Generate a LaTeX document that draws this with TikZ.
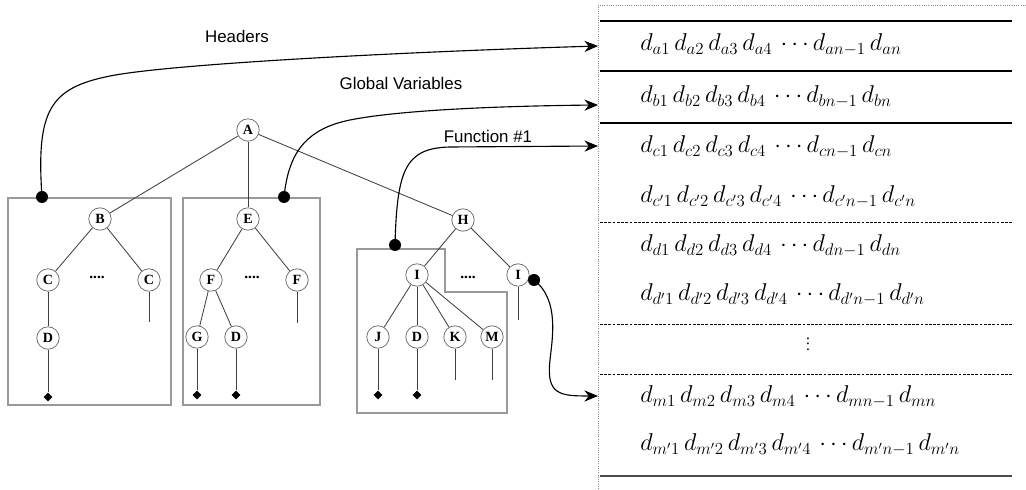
\documentclass[tikz,border=0pt]{standalone}
\usepackage{fontspec}
\setmainfont{Liberation Serif}
\newfontfamily\labelfont{Liberation Sans}
\usetikzlibrary{arrows.meta,shapes.geometric}
\newcommand{\gap}{\mkern3mu}

\begin{document}
\begin{tikzpicture}[x=0.025cm, y=-0.025cm,
        vert/.style={circle, draw=black!60, line width=0.5pt, inner sep=0pt, minimum size=0.56cm, font=\fontsize{10}{10}\selectfont\bfseries},
        leaf/.style={diamond, fill=black, inner sep=0pt, minimum size=0.22cm},
        hook/.style={circle, fill=black, inner sep=0pt, minimum size=0.3cm},
        edge/.style={black!75, line width=0.6pt},
        frame/.style={draw=black!40, line width=0.9pt},
        link/.style={line width=0.8pt, -{Stealth[length=0.34cm, width=0.28cm]}},
        lbl/.style={font=\labelfont\fontsize{12}{14}\selectfont},
        row/.style={anchor=west, inner sep=0pt, font=\fontsize{17}{19}\selectfont},
        more/.style={font=\fontsize{11}{11}\selectfont\bfseries}]
        \useasboundingbox (0,0) rectangle (1026,490);

        % Boxes around the subtrees
        \draw[frame] (8,198) rectangle (171,405);
        \draw[frame] (183,198) rectangle (320,405);
        \draw[frame] (357,249) -- (445,249) -- (445,292) -- (507,292) -- (507,413) -- (357,413) -- cycle;

        % Tree vertices
        \node at (248,130) (A) [vert] {A};
        \node at (100,219) (B) [vert] {B};
        \node at (248,219) (E) [vert] {E};
        \node at (463,220) (H) [vert] {H};

        \node at (48,280) (C1) [vert] {C};
        \node at (149,280) (C2) [vert] {C};
        \node at (48,338) (D1) [vert] {D};

        \node at (211,280) (F1) [vert] {F};
        \node at (297,280) (F2) [vert] {F};
        \node at (197,337) (G) [vert] {G};
        \node at (236,337) (D2) [vert] {D};

        \node at (417,275) (I1) [vert] {I};
        \node at (518,275) (I2) [vert] {I};
        \node at (378,337) (J) [vert] {J};
        \node at (417,337) (D3) [vert] {D};
        \node at (455,337) (K) [vert] {K};
        \node at (492,337) (M) [vert] {M};

        % Sibling gaps
        \node at (97,277) (g1) [more] {....};
        \node at (252,277) (g2) [more] {....};
        \node at (468,277) (g3) [more] {....};

        % Leaves and open ends
        \node at (48,397) (t1) [leaf] {};
        \node at (197,395) (t2) [leaf] {};
        \node at (236,395) (t3) [leaf] {};
        \node at (378,395) (t4) [leaf] {};
        \node at (417,395) (t5) [leaf] {};
        \coordinate (s1) at (149,322);
        \coordinate (s2) at (297,323);
        \coordinate (s3) at (518,320);
        \coordinate (s4) at (455,380);
        \coordinate (s5) at (492,380);

        % Tree edges
        \draw[edge] (A) -- (B);
        \draw[edge] (A) -- (E);
        \draw[edge] (A) -- (H);
        \draw[edge] (B) -- (C1);
        \draw[edge] (B) -- (C2);
        \draw[edge] (C1) -- (D1);
        \draw[edge] (D1) -- (t1);
        \draw[edge] (C2) -- (s1);
        \draw[edge] (E) -- (F1);
        \draw[edge] (E) -- (F2);
        \draw[edge] (F1) -- (G);
        \draw[edge] (F1) -- (D2);
        \draw[edge] (G) -- (t2);
        \draw[edge] (D2) -- (t3);
        \draw[edge] (F2) -- (s2);
        \draw[edge] (H) -- (I1);
        \draw[edge] (H) -- (I2);
        \draw[edge] (I2) -- (s3);
        \draw[edge] (I1) -- (J);
        \draw[edge] (I1) -- (D3);
        \draw[edge] (I1) -- (K);
        \draw[edge] (I1) -- (M);
        \draw[edge] (J) -- (t4);
        \draw[edge] (D3) -- (t5);
        \draw[edge] (K) -- (s4);
        \draw[edge] (M) -- (s5);

        % Memory layout
        \draw[black!45, densely dotted, line width=0.6pt] (1026,5) -- (598,5) -- (598,490);
        \draw[line width=0.8pt] (600,21) -- (1012,21);
        \draw[line width=0.8pt] (600,71) -- (1012,71);
        \draw[line width=0.8pt] (600,123) -- (1012,123);
        \draw[dash pattern=on 2pt off 1pt, line width=0.6pt] (600,222) -- (1012,222);
        \draw[dash pattern=on 2pt off 1pt, line width=0.6pt] (600,324) -- (1012,324);
        \draw[dash pattern=on 2pt off 1pt, line width=0.6pt] (600,374) -- (1012,374);
        \draw[line width=1pt, black!70] (600,476) -- (1012,476);

        \node at (640,45) (ra) [row] {$d_{a1}\gap d_{a2}\gap d_{a3}\gap d_{a4}\gap\cdots d_{an-1}\gap d_{an}$};
        \node at (640,97) (rb) [row] {$d_{b1}\gap d_{b2}\gap d_{b3}\gap d_{b4}\gap\cdots d_{bn-1}\gap d_{bn}$};
        \node at (640,147) (rc) [row] {$d_{c1}\gap d_{c2}\gap d_{c3}\gap d_{c4}\gap\cdots d_{cn-1}\gap d_{cn}$};
        \node at (640,197) (rc2) [row] {$d_{c'1}\gap d_{c'2}\gap d_{c'3}\gap d_{c'4}\gap\cdots d_{c'n-1}\gap d_{c'n}$};
        \node at (640,246) (rd) [row] {$d_{d1}\gap d_{d2}\gap d_{d3}\gap d_{d4}\gap\cdots d_{dn-1}\gap d_{dn}$};
        \node at (640,295) (rd2) [row] {$d_{d'1}\gap d_{d'2}\gap d_{d'3}\gap d_{d'4}\gap\cdots d_{d'n-1}\gap d_{d'n}$};
        \node at (808,340) (vd) [inner sep=0pt, font=\fontsize{11}{11}\selectfont] {$\vdots$};
        \node at (640,397) (rm) [row] {$d_{m1}\gap d_{m2}\gap d_{m3}\gap d_{m4}\gap\cdots d_{mn-1}\gap d_{mn}$};
        \node at (640,445) (rm2) [row] {$d_{m'1}\gap d_{m'2}\gap d_{m'3}\gap d_{m'4}\gap\cdots d_{m'n-1}\gap d_{m'n}$};

        % Links from tree to memory
        \node at (42,197) (hdot) [hook] {};
        \node at (284,197) (gdot) [hook] {};
        \node at (395,245) (fdot) [hook] {};
        \node at (534,280) (idot) [hook] {};
        \coordinate (hend) at (598,46);
        \coordinate (gend) at (598,105);
        \coordinate (fend) at (598,146);
        \coordinate (mend) at (598,396);

        \draw[link] (hdot.center) .. controls (36,110) and (50,88) .. (110,76) .. controls (170,64) and (400,52) .. (hend);
        \draw[link] (gdot.center) .. controls (288,160) and (300,130) .. (350,120) .. controls (400,110) and (500,106) .. (gend);
        \draw[link] (fdot.center) .. controls (397,170) and (405,148) .. (450,147) -- (fend);
        \draw[link] (idot.center) .. controls (560,300) and (552,340) .. (550,360) .. controls (546,395) and (560,396) .. (mend);

        \node at (237,36) (hl) [lbl] {Headers};
        \node at (401,83) (gl) [lbl] {Global Variables};
        \node at (488,136) (fl) [lbl] {Function \#1};
    \end{tikzpicture}
\end{document}
